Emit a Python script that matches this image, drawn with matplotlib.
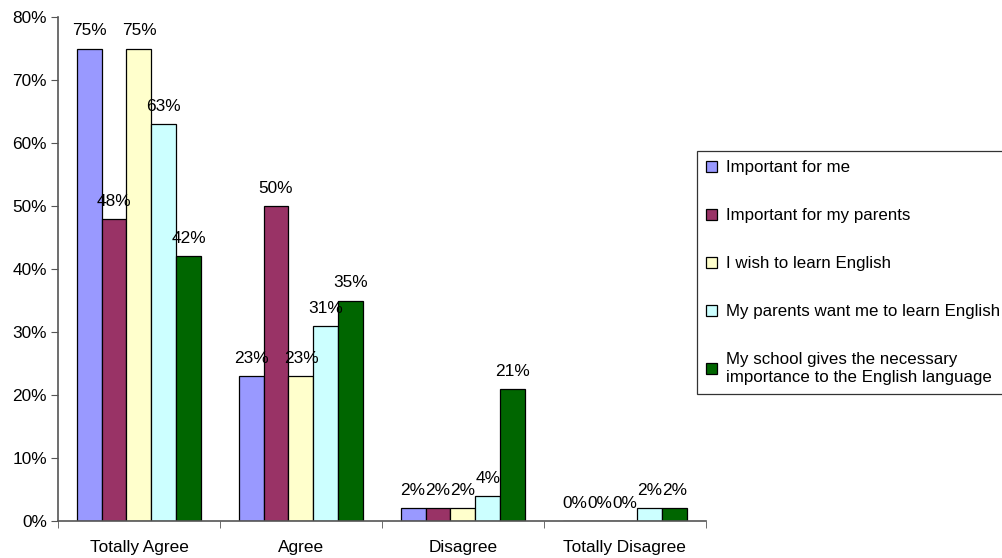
import matplotlib
matplotlib.use("Agg")
import matplotlib.pyplot as plt
import numpy as np
from matplotlib.ticker import FixedLocator, PercentFormatter

plt.rcParams['font.family'] = ['Liberation Sans', 'DejaVu Sans']

categories = ["Totally Agree", "Agree", "Disagree", "Totally Disagree"]
series_names = [
    "Important for me",
    "Important for my parents",
    "I wish to learn English",
    "My parents want me to learn English",
    "My school gives the necessary\nimportance to the English language",
]
important_for_me = [75, 23, 2, 0]
important_for_parents = [48, 50, 2, 0]
wish_to_learn = [75, 23, 2, 0]
parents_want = [63, 31, 4, 2]
school_importance = [42, 35, 21, 2]
series_values = [important_for_me, important_for_parents, wish_to_learn,
                 parents_want, school_importance]
colors = ["#9999FF", "#993366", "#FFFFCC", "#CCFFFF", "#006600"]

fs = 12.4

fig = plt.figure(figsize=(10.03, 5.58), dpi=100)
ax = fig.add_axes([0.0578, 0.0663, 0.646, 0.9032])

n = len(series_values)
bar_w = 0.154
x = np.arange(len(categories))
handles = []
for i, (vals, col, name) in enumerate(zip(series_values, colors, series_names)):
    pos = x + (i - (n - 1) / 2) * bar_w
    bars = ax.bar(pos, vals, width=bar_w, color=col, edgecolor="black",
                  linewidth=0.9, label=name)
    handles.append(bars)
    for p, v in zip(pos, vals):
        ax.text(p, v + 1.6, f"{v}%", ha="center", va="bottom", fontsize=fs,
                color="black")

ax.set_xlim(-0.5, len(categories) - 0.5)
ax.set_ylim(0, 80)
ax.set_yticks(np.arange(0, 81, 10))
ax.yaxis.set_major_formatter(PercentFormatter(decimals=0))
ax.set_xticks(x)
ax.set_xticklabels(categories)
ax.xaxis.set_minor_locator(FixedLocator(np.arange(-0.5, len(categories), 1.0)))
ax.tick_params(axis="x", which="major", length=0, pad=14, labelsize=fs)
ax.tick_params(axis="x", which="minor", length=5, direction="out", color="#555555")
ax.tick_params(axis="y", length=5, direction="out", color="#555555",
               labelsize=fs, pad=3)

for side in ("top", "right"):
    ax.spines[side].set_visible(False)
for side in ("left", "bottom"):
    ax.spines[side].set_color("#555555")
    ax.spines[side].set_linewidth(1.2)

leg = fig.legend(handles=handles, loc="upper left",
                 bbox_to_anchor=(697 / 1003, 1 - 151 / 558),
                 frameon=True, fancybox=False, edgecolor="black",
                 fontsize=12.2, labelspacing=1.95, handlelength=0.65,
                 handleheight=0.65, handletextpad=0.5, borderpad=0.55,
                 borderaxespad=0)
leg.get_frame().set_linewidth(0.9)

fig.savefig("out.png", dpi=100)
